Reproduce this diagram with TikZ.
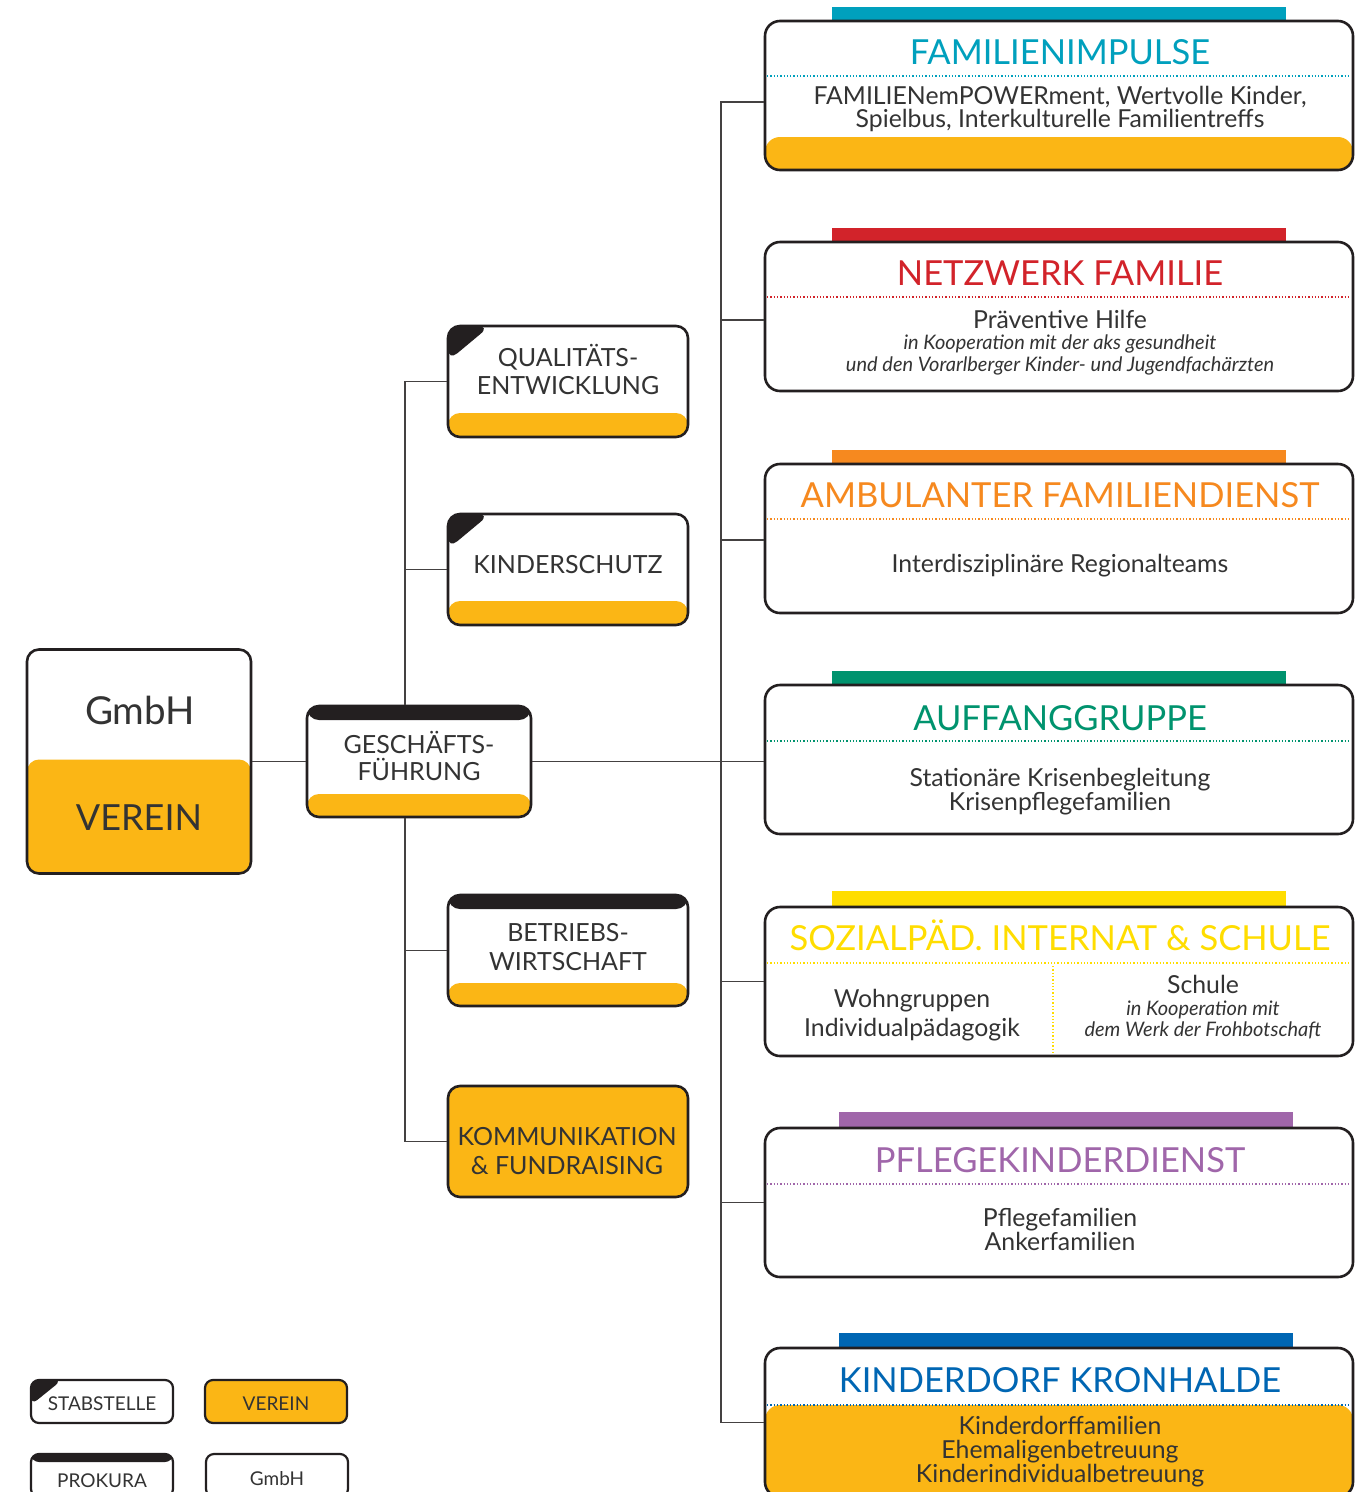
\documentclass[tikz,border=0pt]{standalone}
\usepackage{fontspec}
\setmainfont{Lato}
\definecolor{yel}{HTML}{FBB615}
\definecolor{ink}{HTML}{231F20}
\definecolor{txt}{HTML}{333333}
\definecolor{cteal}{HTML}{00A0BD}
\definecolor{cred}{HTML}{D2232A}
\definecolor{corange}{HTML}{F6891F}
\definecolor{cgreen}{HTML}{00936E}
\definecolor{cyel}{HTML}{FFDD00}
\definecolor{cpurple}{HTML}{A066AA}
\definecolor{cblue}{HTML}{0066B3}
\tikzset{
 conn/.style={draw=ink!85, line width=1.2pt},
 rb/.style={draw=ink, line width=2.6pt, rounded corners=15pt, fill=white, minimum width=588pt, minimum height=149pt, inner sep=0pt},
 lb/.style={draw=ink, line width=2.6pt, rounded corners=12pt, fill=white, minimum width=240pt, minimum height=111pt, inner sep=0pt},
 legbox/.style={draw=ink, line width=2.2pt, rounded corners=8pt, fill=white, minimum width=142pt, minimum height=43pt, inner sep=0pt},
 tx/.style={inner sep=0pt, text=txt, anchor=base},
 ttl/.style={tx, font=\fontsize{34.5}{34.5}\selectfont},
 body/.style={tx, font=\fontsize{24.8}{24.8}\selectfont},
 ital/.style={tx, font=\fontsize{20}{20}\selectfont\itshape},
 ltx/.style={tx, font=\fontsize{25}{25}\selectfont},
 gtx/.style={tx, font=\fontsize{19}{19}\selectfont},
 dots/.style={dotted, line width=1.3pt},
 yb/.style={path picture={\fill[yel] (path picture bounding box.south west) rectangle ([yshift=#1]path picture bounding box.south east);}},
 stab/.style={path picture={\fill[yel] (path picture bounding box.south west) rectangle ([yshift=24pt]path picture bounding box.south east);
   \fill[ink] (path picture bounding box.north west) -- ++(42,0) -- ++(-42,35) -- cycle;}},
 prok/.style={path picture={\fill[yel] (path picture bounding box.south west) rectangle ([yshift=23pt]path picture bounding box.south east);
   \fill[ink] (path picture bounding box.north west) rectangle ([yshift=-14pt]path picture bounding box.north east);}},
 legstab/.style={path picture={\fill[ink] (path picture bounding box.north west) -- ++(31,0) -- ++(-31,25) -- cycle;}},
 legprok/.style={path picture={\fill[ink] (path picture bounding box.north west) rectangle ([yshift=-8pt]path picture bounding box.north east);}},
}
\begin{document}
\begin{tikzpicture}[x=1pt,y=-1pt]
\useasboundingbox (0,0) rectangle (1370,1492);
\fill[white] (0,0) rectangle (1370,1492);

% ---------- colour bars on top of the right boxes
\fill[cteal]   (832,7)    rectangle (1286,23);
\fill[cred]    (832,228)  rectangle (1286,244);
\fill[corange] (832,450)  rectangle (1286,466);
\fill[cgreen]  (832,671)  rectangle (1286,687);
\fill[cyel]    (832,891)  rectangle (1286,909);
\fill[cpurple] (839,1112) rectangle (1293,1130);
\fill[cblue]   (839,1333) rectangle (1293,1350);

% ---------- right boxes
\node[rb, yb=33pt] (fam)  at (1059,95.5)   {};
\node[rb]          (net)  at (1059,316.5)  {};
\node[rb]          (amb)  at (1059,538.5)  {};
\node[rb]          (auff) at (1059,759.5)  {};
\node[rb]          (soz)  at (1059,981.5)  {};
\node[rb]          (pfl)  at (1059,1202.5) {};
\node[rb, yb=92pt] (kdk)  at (1059,1422.5) {};

% titles and dotted separators
\node[ttl, text=cteal]   (famT)  at (1060,64)   {FAMILIENIMPULSE};
\draw[dots, cteal]   (767,76)   -- (1351,76);
\node[ttl, text=cred]    (netT)  at (1060,285)  {NETZWERK FAMILIE};
\draw[dots, cred]    (767,297)  -- (1351,297);
\node[ttl, text=corange] (ambT)  at (1060,507)  {AMBULANTER FAMILIENDIENST};
\draw[dots, corange] (767,519)  -- (1351,519);
\node[ttl, text=cgreen]  (auffT) at (1060,730)  {AUFFANGGRUPPE};
\draw[dots, cgreen]  (767,741)  -- (1351,741);
\node[ttl, text=cyel]    (sozT)  at (1060,950)  {SOZIALPÄD. INTERNAT \& SCHULE};
\draw[dots, cyel]    (767,963)  -- (1351,963);
\draw[dots, cyel]    (1053,966) -- (1053,1052);
\node[ttl, text=cpurple] (pflT)  at (1060,1172) {PFLEGEKINDERDIENST};
\draw[dots, cpurple] (767,1184) -- (1351,1184);
\node[ttl, text=cblue]   (kdkT)  at (1060,1392) {KINDERDORF KRONHALDE};
\draw[dots, cblue]   (767,1405) -- (1351,1405);

% body texts
\node[body] (fam1) at (1060,104) {FAMILIENemPOWERment, Wertvolle Kinder,};
\node[body] (fam2) at (1060,127) {Spielbus, Interkulturelle Familientreffs};
\node[body] (net1) at (1060,328) {Präventive Hilfe};
\node[ital] (net2) at (1060,349) {in Kooperation mit der aks gesundheit};
\node[ital] (net3) at (1060,371) {und den Vorarlberger Kinder- und Jugendfachärzten};
\node[body] (amb1) at (1060,572) {Interdisziplinäre Regionalteams};
\node[body] (auf1) at (1060,786) {Stationäre Krisenbegleitung};
\node[body] (auf2) at (1060,810) {Krisenpflegefamilien};
\node[body] (soz1) at (912,1007) {Wohngruppen};
\node[body] (soz2) at (912,1036) {Individualpädagogik};
\node[body] (soz3) at (1203,993) {Schule};
\node[ital] (soz4) at (1203,1015) {in Kooperation mit};
\node[ital] (soz5) at (1203,1036) {dem Werk der Frohbotschaft};
\node[body] (pfl1) at (1060,1226) {Pflegefamilien};
\node[body] (pfl2) at (1060,1250) {Ankerfamilien};
\node[body] (kdk1) at (1060,1434) {Kinderdorffamilien};
\node[body] (kdk2) at (1060,1458) {Ehemaligenbetreuung};
\node[body] (kdk3) at (1060,1482) {Kinderindividualbetreuung};

% ---------- left side
\node[lb, minimum width=224pt, minimum height=224pt, yb=114pt] (gmbh) at (139,761.5) {};
\node[tx, font=\fontsize{38.5}{38.5}\selectfont] (gmbhT) at (140,724) {GmbH};
\node[tx, font=\fontsize{36}{36}\selectfont] (vereinT) at (139,830) {VEREIN};

\node[lb, minimum width=224pt, prok] (gf) at (419,761.5) {};
\node[ltx] (gf1) at (419,753) {GESCHÄFTS-};
\node[ltx] (gf2) at (419,780) {FÜHRUNG};

\node[lb, stab] (qual) at (568,381.5) {};
\node[ltx] (qual1) at (568,366) {QUALITÄTS-};
\node[ltx] (qual2) at (568,394) {ENTWICKLUNG};

\node[lb, stab] (kind) at (568,569.5) {};
\node[ltx] (kind1) at (568,573) {KINDERSCHUTZ};

\node[lb, prok] (betr) at (568,950.5) {};
\node[ltx] (betr1) at (568,941) {BETRIEBS-};
\node[ltx] (betr2) at (568,970) {WIRTSCHAFT};

\node[lb, fill=yel] (komm) at (568,1141.5) {};
\node[ltx] (komm1) at (567,1145) {KOMMUNIKATION};
\node[ltx] (komm2) at (567,1174) {\& FUNDRAISING};

% ---------- connectors
\coordinate (trk) at (405,0);
\coordinate (rtrk) at (721,0);
\coordinate (famc) at ([yshift=-6.5pt]fam.west);
\coordinate (netc) at ([yshift=-3.5pt]net.west);
\coordinate (ambc) at ([yshift=-1.5pt]amb.west);
\draw[conn] (gmbh.east) -- (gf.west);
\draw[conn] (qual.west) -| (trk |- gf.north);
\draw[conn] (kind.west) -- (trk |- kind.west);
\draw[conn] (komm.west) -| (trk |- gf.south);
\draw[conn] (betr.west) -- (trk |- betr.west);
\draw[conn] (gf.east) -- (gf.east -| auff.west);
\draw[conn] (famc) -| (rtrk |- kdk.west) -- (kdk.west);
\draw[conn] (netc) -- (rtrk |- netc);
\draw[conn] (ambc) -- (rtrk |- ambc);
\draw[conn] (soz.west) -- (rtrk |- soz.west);
\draw[conn] (pfl.west) -- (rtrk |- pfl.west);

% ---------- legend
\node[legbox, legstab] (lgStab) at (102,1401.5) {};
\node[gtx] (lgStabT) at (102,1410) {STABSTELLE};
\node[legbox, fill=yel] (lgVer) at (276,1401.5) {};
\node[gtx] (lgVerT) at (276,1410) {VEREIN};
\node[legbox, legprok] (lgProk) at (102,1475.5) {};
\node[gtx] (lgProkT) at (102,1487) {PROKURA};
\node[legbox] (lgGmbh) at (277,1475.5) {};
\node[gtx] (lgGmbhT) at (277,1485) {GmbH};
\end{tikzpicture}
\end{document}
